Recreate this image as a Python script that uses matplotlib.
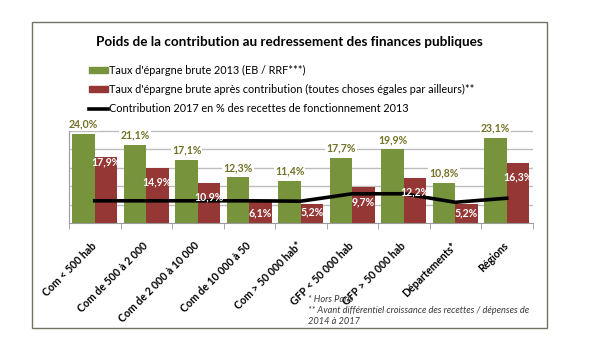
import numpy as np
import matplotlib.pyplot as plt
from matplotlib.patches import Rectangle, Patch
from matplotlib.lines import Line2D

plt.rcParams['font.family'] = ['Lato', 'DejaVu Sans']

# data
categories = ['Com < 500 hab', 'Com de 500 à 2 000', 'Com de 2 000 à 10 000',
              'Com de 10 000 à 50', 'Com > 50 000 hab*', 'GFP < 50 000 hab',
              'GFP > 50 000 hab', 'Départements*', 'Régions']
epargne_2013 = [24.0, 21.1, 17.1, 12.3, 11.4, 17.7, 19.9, 10.8, 23.1]
epargne_apres = [17.9, 14.9, 10.9, 6.1, 5.2, 9.7, 12.2, 5.2, 16.3]
contribution = [6.0, 6.0, 6.0, 6.0, 5.9, 7.9, 7.9, 5.6, 6.7]

legend_labels = ["Taux d'épargne brute 2013 (EB / RRF***)",
                 "Taux d'épargne brute après contribution (toutes choses égales par ailleurs)**",
                 "Contribution 2017 en % des recettes de fonctionnement 2013"]
title = "Poids de la contribution au redressement des finances publiques"

green = '#77933c'
red = '#953735'
px = 0.72  # points per pixel at dpi 100

W, H = 590, 339
fig = plt.figure(figsize=(W / 100, H / 100), dpi=100)
ax = fig.add_axes([69 / W, 1 - 223 / H, (532.5 - 69) / W, (223 - 130.5) / H])

x = np.arange(len(categories))
w = 0.433
ax.bar(x - w / 2, epargne_2013, w, color=green, zorder=2)
ax.bar(x + w / 2, epargne_apres, w, color=red, zorder=2)
ax.plot(x, contribution, color='black', lw=2.6, zorder=4)

ax.set_xlim(-0.5, len(categories) - 0.5)
ax.set_ylim(0, 25)
ax.set_yticks([5, 10, 15, 20, 25])
ax.yaxis.grid(True, color='#bdbdbd', lw=1)
ax.set_axisbelow(True)
ax.tick_params(axis='y', length=0, labelleft=False)
for s in ['top', 'right']:
    ax.spines[s].set_visible(False)
for s in ['left', 'bottom']:
    ax.spines[s].set_color('#9a9a9a')

# labels above green bars
for i, v in enumerate(epargne_2013):
    ax.annotate(('%.1f%%' % v).replace('.', ','), (i - w / 2, v),
                xytext=(0, 10 * px), textcoords='offset points',
                ha='center', va='center', fontsize=7.6, fontweight='bold',
                color='#727228', annotation_clip=False, zorder=5,
                bbox=dict(fc='white', ec='none', pad=0.8))

# labels inside red bars (moved by hand in the original)
red_dy = [-5, -14, -14, -12, -8.5, -14.5, -14, -9, -14]
for i, v in enumerate(epargne_apres):
    ax.annotate(('%.1f%%' % v).replace('.', ','), (i + w / 2, v),
                xytext=(0, red_dy[i] * px), textcoords='offset points',
                ha='center', va='center', fontsize=7.6, fontweight='bold',
                color='white', zorder=5)

ax.set_xticks(x)
ax.set_xticklabels(categories, rotation=45, ha='right', va='center',
                   rotation_mode='anchor', fontsize=7.6, fontweight='bold')
ax.tick_params(axis='x', which='major', length=0, pad=15)
ax.set_xticks(np.arange(len(categories) + 1) - 0.5, minor=True)
ax.tick_params(axis='x', which='minor', length=4, color='#9a9a9a')

fig.text(289.5 / W, 1 - 41.7 / H, title, ha='center', va='center',
         fontsize=9.7, fontweight='bold')

handles = [Patch(color=green), Patch(color=red), Line2D([], [], color='black', lw=2.6)]
fig.legend(handles, legend_labels, loc='upper left',
           bbox_to_anchor=(89 / W, 1 - 65 / H), frameon=False, fontsize=7.8,
           handlelength=1.75, handleheight=0.5, handletextpad=0.1,
           labelspacing=0.75, borderaxespad=0, borderpad=0)

notes = ['* Hors Paris',
         '** Avant différentiel croissance des recettes / dépenses de',
         '2014 à 2017']
frame_bottom = 324
for k, t in enumerate(notes):
    txt = fig.text(308 / W, 1 - (300 + 10.5 * k) / H, t, style='italic',
                   fontsize=6.7, color='#3a3a3a', va='center')
    clip = Rectangle((0, 1 - frame_bottom / H), 1, frame_bottom / H,
                     transform=fig.transFigure)
    txt.set_clip_path(clip)

fig.add_artist(Rectangle((32.3 / W, 1 - 328.3 / H), (546.6 - 32.3) / W,
                         (328.3 - 22.3) / H, transform=fig.transFigure,
                         fill=False, ec='#6e7562', lw=1))

fig.savefig('out.png', dpi=100, facecolor='white')
